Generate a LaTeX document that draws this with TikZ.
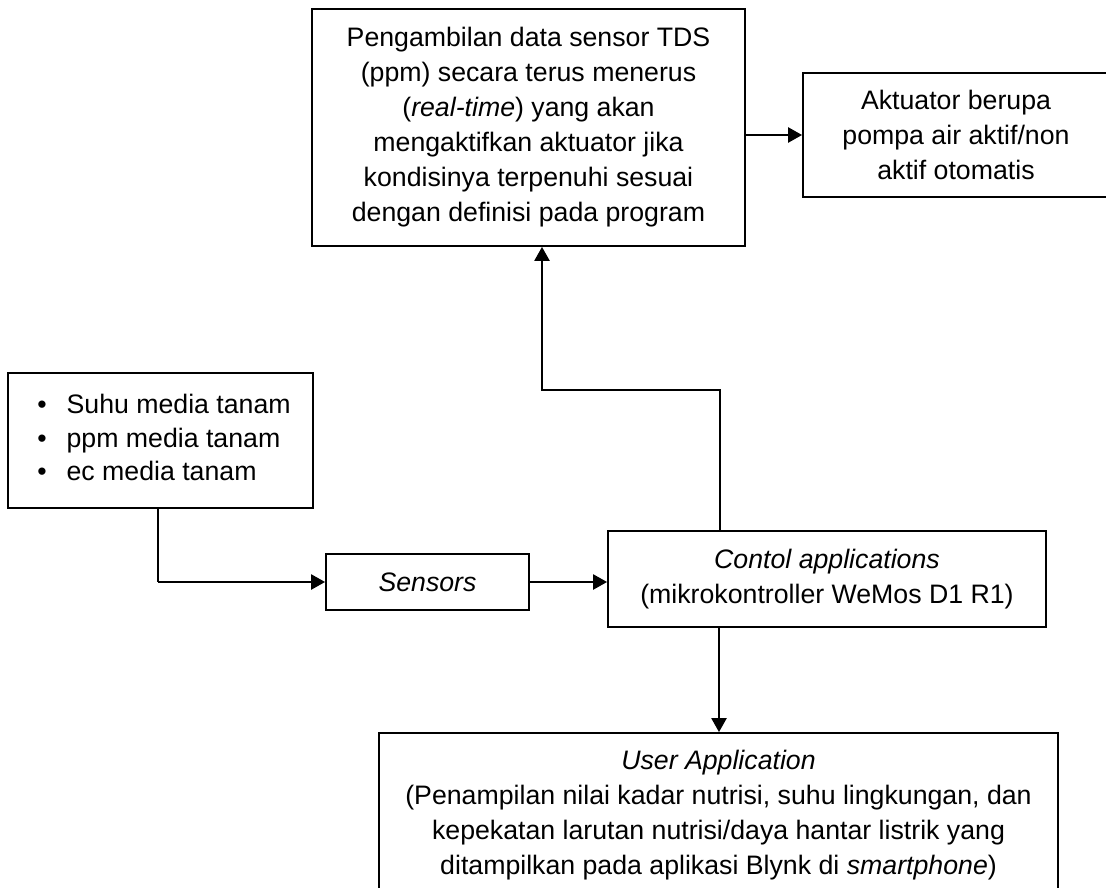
\documentclass[tikz,border=0pt]{standalone}
\usepackage{fontspec}
\setmainfont{Liberation Sans}
\usetikzlibrary{arrows.meta}

\tikzset{
  box/.style={draw=black, line width=1.8pt, fill=white, align=center, inner sep=0pt,
              font=\fontsize{26.7}{35}\selectfont},
  wire/.style={draw=black, line width=2.4pt},
  thinwire/.style={draw=black, line width=1.5pt},
  arr/.style={wire, -{Triangle[length=14pt,width=15pt]}}
}

\begin{document}
\begin{tikzpicture}[x=1pt,y=-1pt]
  \useasboundingbox (0,0) rectangle (1106,888);
  \clip (0,0) rectangle (1106,888);

  % processing box at the top
  \node[box, minimum width=433pt, minimum height=237pt] (proc) at (528.5,127.5)
    {Pengambilan data sensor TDS\\(ppm) secara terus menerus\\(\textit{real-time}) yang akan\\mengaktifkan aktuator jika\\kondisinya terpenuhi sesuai\\dengan definisi pada program};

  % actuator (its right side runs to the page edge)
  \node[box, minimum width=306pt, minimum height=124pt] (akt) at (956,135)
    {Aktuator berupa\\pompa air aktif/non\\aktif otomatis};

  % measured quantities
  \node[box, minimum width=305pt, minimum height=135pt] (meas) at (160.5,440.5)
    {\fontsize{26.7}{33.5}\selectfont\hspace{7pt}%
     \begin{tabular}{@{}l@{\hspace{20pt}}l@{}}
       \textbullet & Suhu media tanam\\
       \textbullet & ppm media tanam\\
       \textbullet & ec media tanam
     \end{tabular}};

  % sensors
  \node[box, minimum width=203pt, minimum height=56pt] (sens) at (427.5,582)
    {\textit{Sensors}};

  % controller
  \node[box, minimum width=438pt, minimum height=96pt] (ctl) at (827,579)
    {\textit{Contol applications}\\(mikrokontroller WeMos D1 R1)};

  % user application (runs past the lower edge)
  \node[box, minimum width=679pt, minimum height=165pt] (usr) at (718.5,815.5)
    {\textit{User Application}\\(Penampilan nilai kadar nutrisi, suhu lingkungan, dan\\kepekatan larutan nutrisi/daya hantar listrik yang\\ditampilkan pada aplikasi Blynk di \textit{smartphone})};

  % attachment points and bends
  \coordinate (measOut) at (158,508);
  \coordinate (corner)  at (158,582);
  \coordinate (up)      at (720,531);
  \coordinate (down)    at (719,627);
  \coordinate (bendR)   at (720,390);
  \coordinate (bendL)   at (542,390);

  % connectors
  \draw[arr] (akt.west -| proc.east) -- (akt.west);
  \draw[thinwire] (measOut) -- (corner);
  \draw[arr] (corner) -- (sens.west);
  \draw[arr] (sens.east) -- (ctl.west |- sens.east);
  \draw[arr] (up) -- (bendR) -- (bendL) -- (bendL |- proc.south);
  \draw[arr] (down) -- (down |- usr.north);
\end{tikzpicture}
\end{document}
